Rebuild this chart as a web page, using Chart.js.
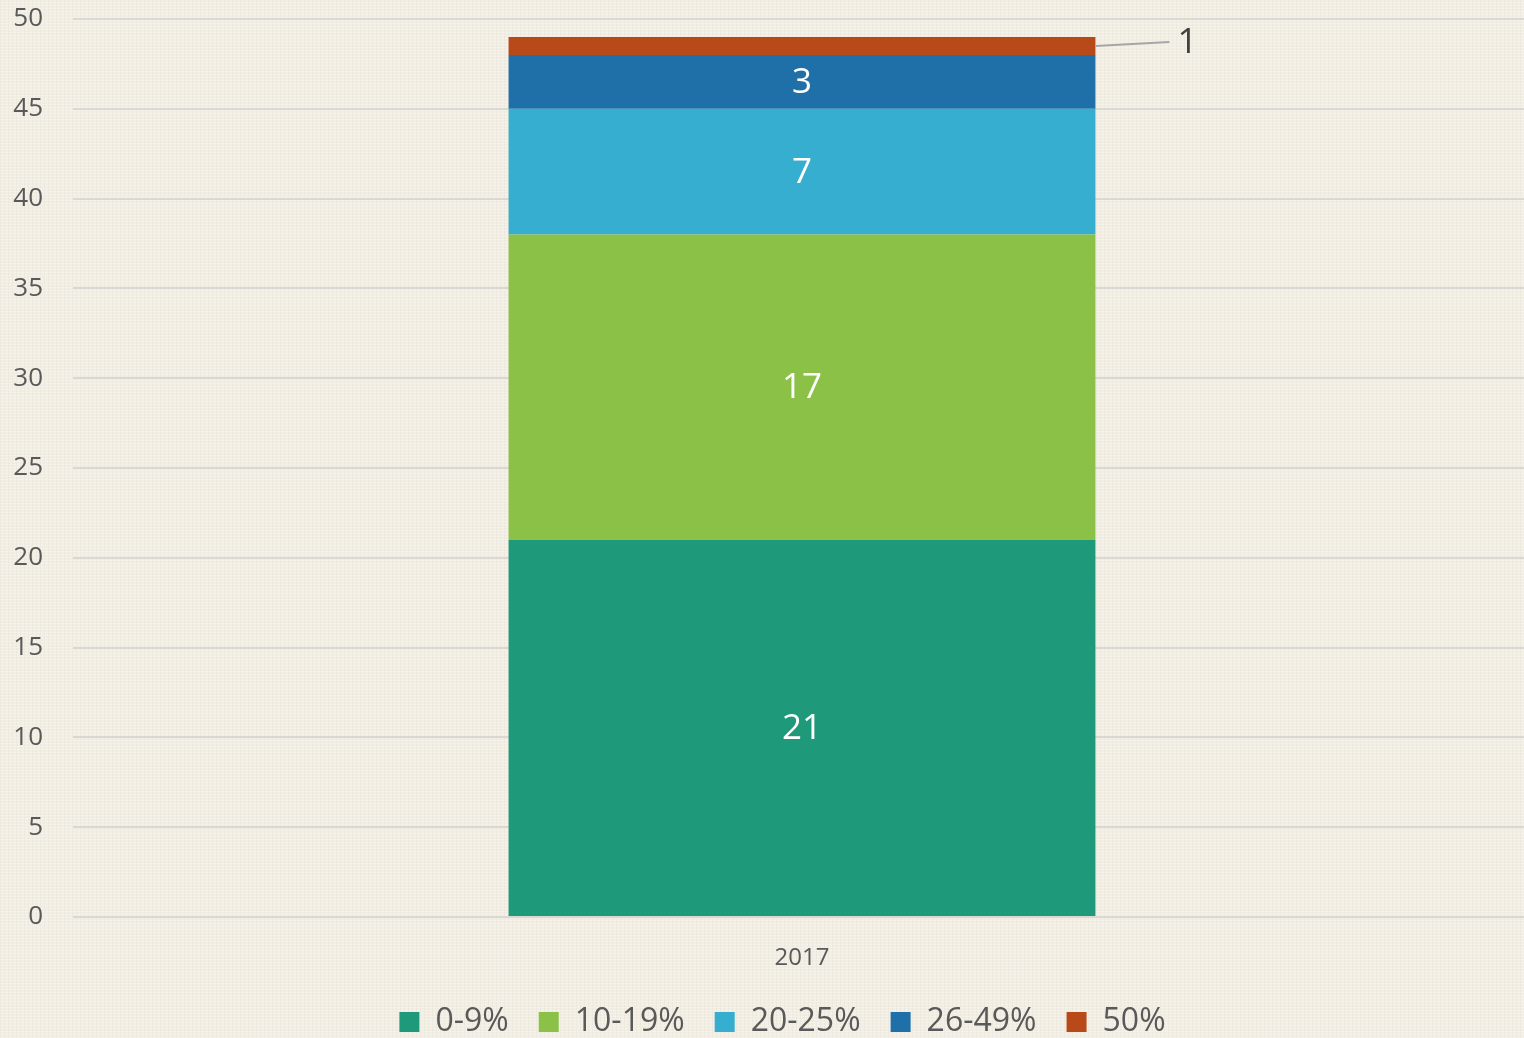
<!DOCTYPE html>
<html>
<head>
<meta charset="utf-8">
<script src="https://cdn.jsdelivr.net/npm/chart.js@4"></script>
<style>
  html, body { margin: 0; padding: 0; }
  body {
    width: 1524px; height: 1038px; overflow: hidden;
    background-color: #f2eee4;
    background-image:
      repeating-linear-gradient(0deg, rgba(255,255,255,0.25) 0px, rgba(255,255,255,0.25) 1px, transparent 1px, transparent 3px),
      repeating-linear-gradient(90deg, rgba(200,190,170,0.12) 0px, rgba(200,190,170,0.12) 1px, transparent 1px, transparent 4px);
  }
  #wrap { position: relative; width: 1531px; height: 1038px; }
</style>
</head>
<body>
<div id="wrap"><canvas id="myChart"></canvas></div>
<script>
const ctx = document.getElementById('myChart').getContext('2d');

const years = ['2017'];
const bandNames = ['0-9%', '10-19%', '20-25%', '26-49%', '50%'];
const band0 = [21];
const band1 = [17];
const band2 = [7];
const band3 = [3];
const band4 = [1];
const bandColors = ['#1e9a7a', '#8cc148', '#36aecf', '#1f6fa8', '#b84a1a'];
const yTicks = [0, 5, 10, 15, 20, 25, 30, 35, 40, 45, 50];

const font = "'Open Sans', 'Noto Sans', sans-serif";
const allBands = [band0, band1, band2, band3, band4];

// labels inside the segments, the small one goes outside with a leader line
const labelPlugin = {
    id: 'segLabels',
    afterLayout(chart) {
        // legend sits a bit right of centre in the original
        chart.legend.left += 17;
        chart.legend.right += 17;
    },
    afterDatasetsDraw(chart) {
        const c = chart.ctx;
        c.save();
        chart.data.datasets.forEach((ds, i) => {
            const meta = chart.getDatasetMeta(i);
            meta.data.forEach((bar, j) => {
                const v = ds.data[j];
                const top = bar.y, bottom = bar.base;
                const mid = (top + bottom) / 2;
                if (bottom - top > 40) {
                    c.fillStyle = '#ffffff';
                    c.font = '35px ' + font;
                    c.textAlign = 'center';
                    c.textBaseline = 'middle';
                    c.fillText(String(v), bar.x, mid + 1);
                } else {
                    const right = bar.x + bar.width / 2;
                    c.strokeStyle = '#a6a6a6';
                    c.lineWidth = 2;
                    c.beginPath();
                    c.moveTo(right, mid);
                    c.lineTo(right + 74, mid - 4);
                    c.stroke();
                    c.fillStyle = '#404040';
                    c.font = '35px ' + font;
                    c.textAlign = 'left';
                    c.textBaseline = 'middle';
                    c.fillText(String(v), right + 82, mid - 3);
                }
            });
        });
        c.restore();
    }
};

const datasets = bandNames.map((name, i) => ({
    label: name,
    data: allBands[i],
    backgroundColor: bandColors[i],
    borderWidth: 0,
    categoryPercentage: 1,
    barPercentage: 0.4025
}));

let myChart = new Chart(ctx, {
    type: 'bar',
    data: { labels: years, datasets: datasets },
    plugins: [labelPlugin],
    options: {
        responsive: true,
        maintainAspectRatio: false,
        animation: false,
        layout: { padding: { top: 19, right: 0, left: 0, bottom: -10 } },
        plugins: {
            tooltip: { enabled: false },
            legend: {
                position: 'bottom',
                labels: {
                    color: '#595959',
                    font: { family: font, size: 32 },
                    boxWidth: 20,
                    boxHeight: 20,
                    padding: 30
                }
            }
        },
        scales: {
            x: {
                stacked: true,
                grid: { display: false },
                border: { display: false },
                ticks: { color: '#595959', font: { family: font, size: 24 }, padding: 19 },
                afterFit(scale) { scale.height = 59; }
            },
            y: {
                stacked: true,
                min: 0,
                max: 50,
                afterBuildTicks(scale) { scale.ticks = yTicks.map(v => ({ value: v })); },
                grid: { color: '#dad8d2', lineWidth: 2, drawTicks: false },
                border: { display: false },
                ticks: { color: '#595959', font: { family: font, size: 26 }, padding: 30 },
                afterFit(scale) {
                    scale.width = 73;
                    scale.paddingTop = 0;
                    scale.paddingBottom = 0;
                }
            }
        }
    }
});
</script>
</body>
</html>
